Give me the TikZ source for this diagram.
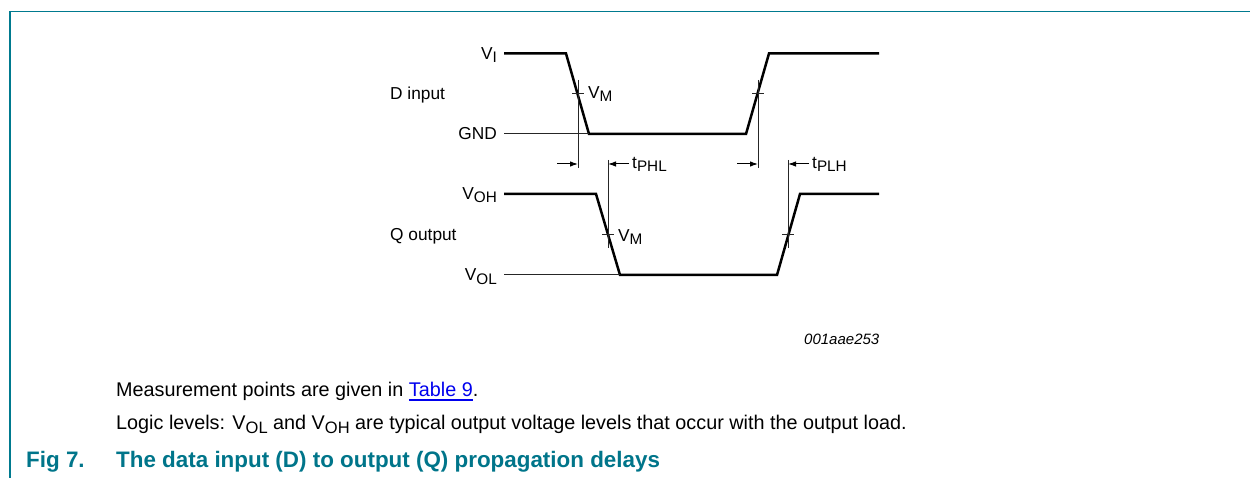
\documentclass[tikz,border=0pt]{standalone}
\usepackage{fontspec}
\usepackage{xcolor}
\setmainfont{Liberation Sans}
\usetikzlibrary{arrows.meta, positioning}
\definecolor{framecol}{RGB}{0,122,143}
\definecolor{titlecol}{RGB}{0,117,138}
\definecolor{linkcol}{RGB}{0,0,238}
\newsavebox\linkbox
\newcommand{\lowsub}[1]{\raisebox{-3pt}{\fontsize{15.3}{18}\selectfont #1}}
\newcommand{\parsub}[1]{\raisebox{-3.5pt}{\fontsize{16.5}{18}\selectfont #1}}
\newcommand{\linktext}[1]{\sbox\linkbox{\textcolor{linkcol}{#1}}\textcolor{linkcol}{\rlap{\rule[-4.6pt]{\wd\linkbox}{1.8pt}}}\usebox\linkbox}
\tikzstyle{wave} = [line width=2.5pt,line join=miter]
\tikzstyle{thinline} = [line width=1pt,black!85]
\tikzstyle{arrow} = [line width=1pt,-{Latex[length=8pt,width=5.5pt]}]
\tikzstyle{level} = [anchor=base east,inner sep=0pt,font=\fontsize{17.3}{20}\selectfont]
\tikzstyle{tag} = [anchor=base west,inner sep=0pt,font=\fontsize{17.3}{20}\selectfont]
\tikzstyle{para} = [anchor=base west,inner sep=0pt,font=\fontsize{19.8}{22}\selectfont]
\tikzstyle{heading} = [anchor=base west,inner sep=0pt,text=titlecol,font=\fontsize{22.4}{24}\selectfont\bfseries]

\begin{document}
\begin{tikzpicture}[x=1pt,y=-1pt]
	\useasboundingbox (0,0) rectangle (1250,478);
	% frame
	\coordinate (framea) at (10,478);
	\coordinate (frameb) at (10,11.5);
	\coordinate (framec) at (1250,11.5);
	\draw[framecol, line width=1.2pt] (framea) -- (frameb) -- (framec);

	% D input
	\coordinate (da) at (504,53.5);
	\coordinate (db) at (566,53.5);
	\coordinate (dc) at (589,134);
	\coordinate (dd) at (746,134);
	\coordinate (de) at (769,53.5);
	\coordinate (df) at (879,53.5);
	\coordinate (gnd) at (504,134);
	\draw[wave] (da) -- (db) -- (dc) -- (dd) -- (de) -- (df);
	\draw[thinline] (gnd) -- (dc);

	% Q output
	\coordinate (qa) at (504,194);
	\coordinate (qb) at (596,194);
	\coordinate (qc) at (620,275);
	\coordinate (qd) at (777,275);
	\coordinate (qe) at (800,194);
	\coordinate (qf) at (879,194);
	\coordinate (vol) at (504,275);
	\draw[wave] (qa) -- (qb) -- (qc) -- (qd) -- (qe) -- (qf);
	\draw[thinline] (vol) -- (qc);

	% measurement lines
	\coordinate (ma) at (578,80);
	\coordinate (mb) at (578,168);
	\coordinate (mc) at (758,80);
	\coordinate (md) at (758,168);
	\coordinate (me) at (608,160);
	\coordinate (mf) at (608,248);
	\coordinate (mg) at (788,160);
	\coordinate (mh) at (788,248);
	\draw[thinline] (ma) -- (mb);
	\draw[thinline] (mc) -- (md);
	\draw[thinline] (me) -- (mf);
	\draw[thinline] (mg) -- (mh);

	% ticks
	\coordinate (ta) at (572,93.5);
	\coordinate (tb) at (584,93.5);
	\coordinate (tc) at (752,93.5);
	\coordinate (td) at (764,93.5);
	\coordinate (te) at (602,235);
	\coordinate (tf) at (614,235);
	\coordinate (tg) at (782,235);
	\coordinate (th) at (794,235);
	\draw[thinline] (ta) -- (tb);
	\draw[thinline] (tc) -- (td);
	\draw[thinline] (te) -- (tf);
	\draw[thinline] (tg) -- (th);

	% delay arrows
	\coordinate (aa) at (557,164);
	\coordinate (ab) at (578,164);
	\coordinate (ac) at (629,164);
	\coordinate (ad) at (608,164);
	\coordinate (ae) at (737,164);
	\coordinate (af) at (758,164);
	\coordinate (ag) at (809,164);
	\coordinate (ah) at (788,164);
	\draw[arrow] (aa) -- (ab);
	\draw[arrow] (ac) -- (ad);
	\draw[arrow] (ae) -- (af);
	\draw[arrow] (ag) -- (ah);

	% labels
	\node [level] (vi) at (497,60) {V\lowsub{I}};
	\node [level] (gndlabel) at (497,140) {GND};
	\node [level] (voh) at (497,200) {V\lowsub{OH}};
	\node [level] (vollabel) at (497,281) {V\lowsub{OL}};
	\node [tag] (dinput) at (390,100) {D input};
	\node [tag] (qoutput) at (390,241) {Q output};
	\node [tag] (vma) at (588,99) {V\lowsub{M}};
	\node [tag] (vmb) at (618,241.5) {V\lowsub{M}};
	\node [tag] (tphl) at (632,169) {t\lowsub{PHL}};
	\node [tag] (tplh) at (812,169) {t\lowsub{PLH}};
	\node [anchor=base east,inner sep=0pt,font=\fontsize{15}{17}\selectfont\itshape] (code) at (879.5,344) {001aae253};

	% text below
	\node [para] (measure) at (116,396) {Measurement points are given in \linktext{Table 9}.};
	\node [para] (logic) at (116,429.5) {Logic levels: V\parsub{OL} and V\parsub{OH} are typical output voltage levels that occur with the output load.};
	\node [heading] (figno) at (26,467.5) {Fig 7.};
	\node [heading] (title) at (116,467.5) {The data input (D) to output (Q) propagation delays};
\end{tikzpicture}
\end{document}
